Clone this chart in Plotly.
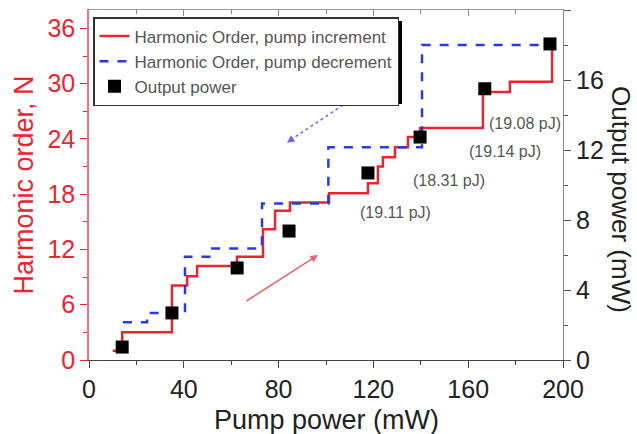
import plotly.graph_objects as go

# Harmonic order, pump increment (step, hv)
inc_pump = [10, 14, 35, 41.4, 45.6, 62.4, 73.4, 78.5, 84.8, 101.3, 117.7, 121.9, 124, 129.1, 134.6, 139.7, 166.2, 177.6, 195.4]
inc_order = [1, 3, 8.1, 9.1, 10.2, 11.2, 14.2, 16.2, 17.1, 18.1, 19.2, 21, 22, 23.1, 24.2, 25.2, 29.1, 30.2, 34.3]

# Harmonic order, pump decrement (step, hv)
dec_pump = [14.3, 24.5, 40.5, 52, 73, 101, 140.5, 192.5]
dec_order = [4.1, 5.1, 11.2, 12.1, 17, 23.1, 34.2, 34.2]

# Output power
pow_pump = [14, 35, 62.5, 84.4, 117.7, 139.7, 167, 194.5]
pow_mw = [0.74, 2.69, 5.26, 7.37, 10.69, 12.74, 15.5, 18.06]

# Pulse energy labels
lab_text = ["(19.11 pJ)", "(18.31 pJ)", "(19.14 pJ)", "(19.08 pJ)"]
lab_pump = [129.5, 151.9, 175.5, 184]
lab_order = [16.0, 19.5, 22.6, 25.7]

FONT = "Liberation Sans, Arial, sans-serif"
RED = "#e8262f"
BLUE = "#2a3adf"

fig = go.Figure()
fig.add_trace(go.Scatter(x=inc_pump, y=inc_order, mode="lines",
                         line=dict(shape="hv", color=RED, width=2.5),
                         name="Harmonic Order, pump increment"))
fig.add_trace(go.Scatter(x=dec_pump, y=dec_order, mode="lines",
                         line=dict(shape="hv", color=BLUE, width=2.5, dash="dash"),
                         name="Harmonic Order, pump decrement"))
fig.add_trace(go.Scatter(x=pow_pump, y=pow_mw, mode="markers", yaxis="y2",
                         marker=dict(symbol="square", size=13, color="black"),
                         name="Output power"))
# dummy trace for top axis
fig.add_trace(go.Scatter(x=[0], y=[0], xaxis="x2", mode="markers",
                         marker=dict(opacity=0), showlegend=False, hoverinfo="skip"))

for t, xv, yv in zip(lab_text, lab_pump, lab_order):
    fig.add_annotation(x=xv, y=yv, text=t, showarrow=False,
                       font=dict(family=FONT, size=16, color="#555555"))

# red solid arrow
fig.add_annotation(x=96.6, y=11.4, ax=65.8, ay=6.3, axref="x", ayref="y",
                   text="", showarrow=True, arrowhead=2, arrowsize=1,
                   arrowwidth=1.5, arrowcolor="#e8606a")
# blue dotted arrow
fig.add_shape(type="line", x0=111.4, y0=28.4, x1=84.5, y1=23.8,
              line=dict(color="#6a6ae8", width=1.5, dash="dot"))
fig.add_annotation(x=83.5, y=23.6, ax=86.3, ay=24.08, axref="x", ayref="y",
                   text="", showarrow=True, arrowhead=2, arrowsize=1,
                   arrowwidth=1.5, arrowcolor="#6a6ae8")

# legend shadow
L, T, W, H = 89, 10, 474, 350
def px(v): return (v - L) / W
def py(v): return (T + H - v) / H
fig.add_shape(type="rect", xref="paper", yref="paper",
              x0=px(97), x1=px(402), y0=py(104), y1=py(21),
              fillcolor="black", line=dict(width=0), layer="above")

fig.add_annotation(xref="paper", yref="paper", x=px(621), y=py(199),
                   xanchor="center", yanchor="middle",
                   text="Output power (mW)", textangle=90, showarrow=False,
                   font=dict(family=FONT, size=26, color="#222222"))
fig.add_annotation(xref="paper", yref="paper", x=px(326), y=py(420),
                   xanchor="center", yanchor="middle",
                   text="Pump power (mW)", showarrow=False,
                   font=dict(family=FONT, size=27, color="#222222"))

fig.update_layout(
    width=637, height=434,
    margin=dict(l=L, r=637 - 563, t=T, b=434 - 360),
    paper_bgcolor="white", plot_bgcolor="white",
    font=dict(family=FONT),
    showlegend=True,
    legend=dict(x=px(93), y=py(17), xanchor="left", yanchor="top",
                bgcolor="white", bordercolor="#333333", borderwidth=1.5,
                font=dict(family=FONT, size=17, color="#555555"),
                tracegroupgap=0),
    xaxis=dict(range=[0, 200], tickvals=[0, 40, 80, 120, 160, 200],
               ticks="outside", ticklen=7, tickwidth=1.2, tickcolor="#444",
               minor=dict(dtick=20, tick0=0, ticks="outside", ticklen=4, tickcolor="#444"),
               showline=True, linecolor="#444", linewidth=1.2,
               showgrid=False, zeroline=False,
               tickfont=dict(family=FONT, size=25, color="#222")),
    xaxis2=dict(range=[0, 200], overlaying="x", side="top", showticklabels=False,
                tickvals=[0, 40, 80, 120, 160, 200],
                ticks="inside", ticklen=6, tickcolor="#888",
                minor=dict(dtick=20, tick0=0, ticks="inside", ticklen=4, tickcolor="#888"),
                showline=True, linecolor="#999", linewidth=1.2, showgrid=False, zeroline=False),
    yaxis=dict(range=[0, 38], tickvals=[0, 6, 12, 18, 24, 30, 36],
               ticks="outside", ticklen=7, tickwidth=1.2, tickcolor=RED,
               minor=dict(dtick=3, tick0=0, ticks="outside", ticklen=4, tickcolor=RED),
               showline=True, linecolor="#f07080", linewidth=1.5,
               showgrid=False, zeroline=False,
               tickfont=dict(family=FONT, size=25, color=RED),
               title=dict(text="Harmonic order, N", font=dict(family=FONT, size=27, color=RED), standoff=6)),
    yaxis2=dict(range=[0, 20], tickvals=[0, 4, 8, 12, 16, 20], overlaying="y", side="right",
                ticks="outside", ticklen=7, tickwidth=1.2, tickcolor="#555",
                minor=dict(dtick=2, tick0=0, ticks="outside", ticklen=4, tickcolor="#555"),
                showline=True, linecolor="#888", linewidth=1.2,
                showgrid=False, zeroline=False,
                tickfont=dict(family=FONT, size=25, color="#222")),
)

fig.write_html("out.html")
